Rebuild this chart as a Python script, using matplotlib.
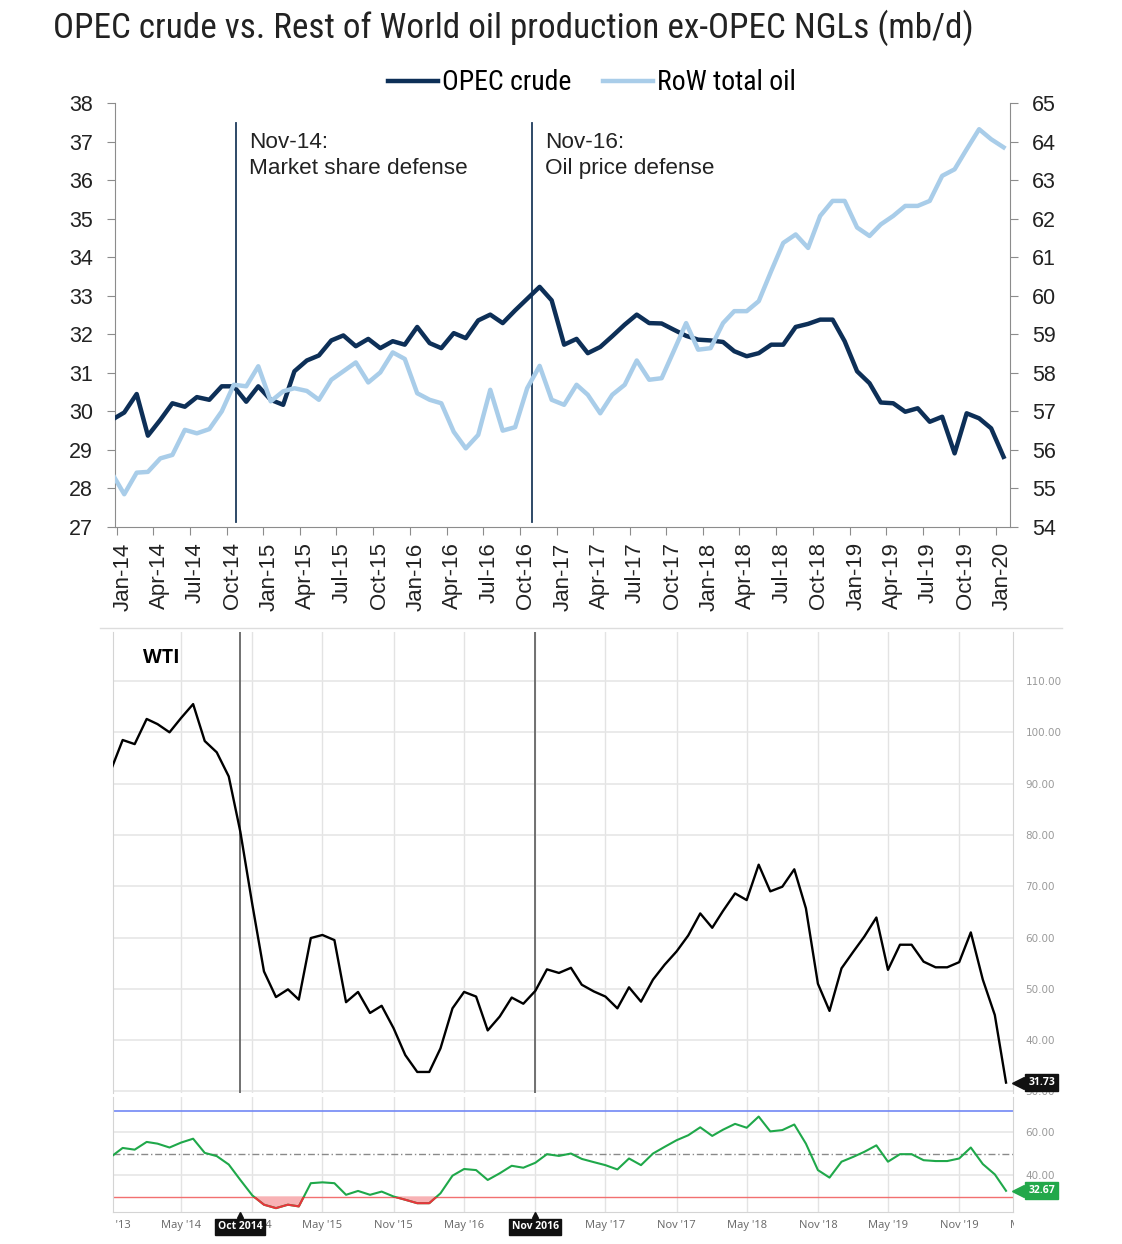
import os
import numpy as np
import pandas as pd
import matplotlib
matplotlib.use('Agg')
import matplotlib.pyplot as plt
import matplotlib.dates as mdates
from matplotlib import font_manager
from matplotlib.font_manager import FontProperties
from matplotlib.lines import Line2D
from matplotlib.patches import Rectangle
from matplotlib.transforms import Bbox, TransformedBbox, ScaledTranslation, blended_transform_factory

# ---- data ---------------------------------------------------------------
# OPEC crude vs RoW total oil (mb/d), monthly from Dec-13 to Jan-20
prod_start = '2013-12-01'
opec_crude = [29.78, 29.97, 30.45, 29.37, 29.78, 30.21, 30.12, 30.37, 30.30, 30.65,
              30.65, 30.25, 30.65, 30.30, 30.17, 31.04, 31.32, 31.45, 31.84, 31.97,
              31.69, 31.88, 31.64, 31.82, 31.73, 32.19, 31.77, 31.64, 32.03, 31.90,
              32.36, 32.51, 32.29, 32.62, 32.92, 33.23, 32.88, 31.73, 31.88, 31.51,
              31.67, 31.95, 32.25, 32.51, 32.29, 32.28, 32.12, 31.96, 31.86, 31.84,
              31.80, 31.56, 31.43, 31.51, 31.73, 31.73, 32.19, 32.27, 32.38, 32.38,
              31.82, 31.04, 30.73, 30.23, 30.21, 29.99, 30.08, 29.73, 29.86, 28.91,
              29.95, 29.82, 29.56, 28.82]
row_total_oil = [55.40, 54.85, 55.41, 55.43, 55.78, 55.87, 56.52, 56.43, 56.54, 57.00,
                 57.69, 57.65, 58.17, 57.26, 57.52, 57.60, 57.53, 57.30, 57.82, 58.04,
                 58.27, 57.75, 58.01, 58.53, 58.36, 57.47, 57.30, 57.21, 56.47, 56.04,
                 56.39, 57.56, 56.50, 56.59, 57.60, 58.18, 57.30, 57.17, 57.69, 57.43,
                 56.95, 57.43, 57.69, 58.32, 57.82, 57.86, 58.56, 59.29, 58.60, 58.64,
                 59.29, 59.60, 59.60, 59.86, 60.64, 61.37, 61.59, 61.24, 62.07, 62.46,
                 62.46, 61.77, 61.55, 61.85, 62.07, 62.33, 62.33, 62.46, 63.11, 63.28,
                 63.80, 64.32, 64.06, 63.85]
event_dates = ['2014-10-25', '2016-10-30']
event_labels = ['Nov-14:\nMarket share defense', 'Nov-16:\nOil price defense']

# WTI monthly close and RSI, Nov-13 to Mar-20
wti_start = '2013-11-01'
wti_close = [92.7, 98.5, 97.7, 102.6, 101.6, 100.0, 102.8, 105.5, 98.3, 96.1,
             91.4, 80.6, 66.4, 53.4, 48.4, 49.9, 47.9, 59.9, 60.5, 59.5,
             47.4, 49.4, 45.3, 46.7, 42.3, 37.1, 33.8, 33.8, 38.4, 46.2,
             49.4, 48.5, 41.9, 44.6, 48.3, 47.1, 49.6, 53.8, 53.1, 54.1,
             50.8, 49.5, 48.5, 46.2, 50.3, 47.5, 51.8, 54.7, 57.3, 60.4,
             64.7, 61.9, 65.2, 68.6, 67.3, 74.2, 69.0, 69.9, 73.3, 65.7,
             51.0, 45.7, 54.0, 57.3, 60.2, 63.9, 53.7, 58.6, 58.6, 55.3,
             54.2, 54.2, 55.2, 61.0, 51.8, 44.9, 31.73]
wti_rsi = [48.5, 52.6, 51.8, 55.4, 54.6, 52.8, 55.1, 56.9, 50.3, 48.8,
           44.9, 37.7, 30.5, 26.2, 24.6, 26.2, 25.4, 36.2, 36.6, 36.2,
           30.8, 32.6, 30.8, 32.3, 30.0, 28.5, 26.9, 26.9, 31.5, 39.7,
           42.8, 42.3, 37.7, 40.8, 44.3, 43.4, 45.7, 49.7, 48.9, 50.0,
           47.5, 46.0, 44.6, 42.6, 47.7, 44.6, 50.0, 53.1, 56.2, 58.5,
           62.2, 58.2, 61.1, 63.8, 62.0, 67.2, 60.3, 60.9, 63.5, 54.6,
           42.3, 38.8, 46.2, 48.5, 50.8, 53.8, 46.2, 49.7, 49.7, 46.9,
           46.5, 46.5, 47.7, 52.8, 45.1, 40.3, 32.67]
wti_marks = ['2014-10-01', '2016-11-01']
wti_mark_labels = ['Oct 2014', 'Nov 2016']

# ---- fonts ----------------------------------------------------------------
ARIAL = 'Liberation Sans'
WEB = 'Open Sans'


def find_narrow():
    # a condensed sans face for the title/legend, if there is one
    prefs = ['Liberation Sans Narrow', 'Arial Narrow', 'Roboto Condensed',
             'Open Sans Condensed', 'Noto Sans Condensed', 'DejaVu Sans Condensed']
    fl = font_manager.fontManager.ttflist
    for p in prefs:
        for f in fl:
            if f.name == p and f.style == 'normal' and f.weight in (400, 'normal', 'regular'):
                return f.fname
    for f in fl:
        base = os.path.basename(f.fname).lower()
        if any(k in base for k in ('bold', 'italic', 'oblique', 'light', 'thin', 'black', 'medium', 'semi', 'extra')):
            continue
        if 'condensed' in base or 'narrow' in base or str(f.stretch) == 'condensed':
            return f.fname
    return None


narrow_file = find_narrow()


def narrow_props(size):
    if narrow_file:
        return FontProperties(fname=narrow_file, size=size)
    return FontProperties(family=ARIAL, size=size)


W, H = 1122, 1244
fig = plt.figure(figsize=(W / 100, H / 100), dpi=100)


def px_rect(x0, y0, x1, y1):
    # pixel box (top-left origin) -> figure fraction rect
    return [x0 / W, 1 - y1 / H, (x1 - x0) / W, (y1 - y0) / H]


# ==========================================================================
# top: OPEC crude vs RoW
# ==========================================================================
title = fig.text(53 / W, 1 - 38 / H,
                 'OPEC crude vs. Rest of World oil production ex-OPEC NGLs (mb/d)',
                 fontproperties=narrow_props(23), color='#222222', ha='left', va='baseline')
# fit the title to the width it takes in the reference (~925 px)
fig.canvas.draw()
tw = title.get_window_extent().width
fit = 925.0 / tw
title.set_fontsize(23 * fit)

ax = fig.add_axes(px_rect(115, 103, 1010, 527))
axr = ax.twinx()
pdates = pd.date_range(prod_start, periods=len(opec_crude), freq='MS') + pd.Timedelta(days=18)

l1, = ax.plot(pdates, opec_crude, color='#0d2f57', lw=3.2, solid_joinstyle='round', zorder=3)
l2, = axr.plot(pdates, row_total_oil, color='#a9cde9', lw=3.2, solid_joinstyle='round', zorder=3)

ax.set_xlim(pd.Timestamp('2013-12-27'), pd.Timestamp('2020-02-04'))
ax.set_ylim(27, 38)
axr.set_ylim(54, 65)
ax.set_yticks(range(27, 39))
axr.set_yticks(range(54, 66))
qt = pd.date_range('2014-01-01', '2020-01-01', freq='QS')
ax.set_xticks(qt)
ax.set_xticklabels([d.strftime('%b-%y') for d in qt], rotation=90)

for d, lab in zip(event_dates, event_labels):
    xd = mdates.date2num(pd.Timestamp(d))
    ax.axvline(xd, ymin=0.012, ymax=0.953, color='#1d3a5c', lw=1.3, zorder=2)
    ax.annotate(lab, xy=(xd, 37.25), xytext=(9.5, 0), textcoords='offset points',
                ha='left', va='top', family=ARIAL, fontsize=16.2, linespacing=1.3,
                color='#222222')

spine_c = '#8c8c8c'
for a in (ax, axr):
    a.spines['top'].set_visible(False)
    for s in ('left', 'right', 'bottom'):
        a.spines[s].set_color(spine_c)
ax.spines['right'].set_visible(False)
axr.spines['left'].set_visible(False)
axr.spines['bottom'].set_visible(False)

ax.tick_params(axis='y', direction='out', length=6, color=spine_c, labelsize=15.5,
               labelcolor='#222222', pad=10)
ax.tick_params(axis='x', direction='out', length=6, color=spine_c, labelsize=16,
               labelcolor='#222222', pad=5)
axr.tick_params(axis='y', direction='out', length=6, color=spine_c, labelsize=15.5,
                labelcolor='#222222', pad=10)
shift = ScaledTranslation(6 / 100, 0, fig.dpi_scale_trans)
for lab in ax.get_xticklabels():
    lab.set_family(ARIAL)
    lab.set_transform(lab.get_transform() + shift)
for lab in ax.get_yticklabels() + axr.get_yticklabels():
    lab.set_family(ARIAL)

fig.legend([l1, l2], ['OPEC crude', 'RoW total oil'], loc='center',
           bbox_to_anchor=(592 / W, 1 - 83 / H), ncol=2, frameon=False,
           prop=narrow_props(18.2 * fit), handlelength=1.8,
           handletextpad=0.15, columnspacing=1.15)

# ==========================================================================
# bottom: WTI price + RSI
# ==========================================================================
fig.add_artist(Line2D([100 / W, 1062 / W], [1 - 628 / H] * 2, color='#dddddd', lw=1))

axp = fig.add_axes(px_rect(113, 632, 1013, 1093))
axi = fig.add_axes(px_rect(113, 1097, 1013, 1212))
wdates = pd.date_range(wti_start, periods=len(wti_close), freq='MS')
xlo, xhi = pd.Timestamp('2013-11-06'), pd.Timestamp('2020-03-19')
grid_dates = pd.date_range('2013-11-01', '2020-05-01', freq='6MS')

grid_c = '#e3e3e3'
edge_c = '#d4d4d4'
for a in (axp, axi):
    a.set_xlim(xlo, xhi)
    for d in grid_dates:
        a.axvline(d, color=grid_c, lw=1, zorder=0)
    a.set_xticks([])
    a.yaxis.tick_right()
    a.spines['top'].set_visible(False)
    a.spines['left'].set_color(edge_c)
    a.spines['right'].set_color(edge_c)
    a.tick_params(axis='y', length=0, pad=9, labelsize=7.5, labelcolor='#9a9a9a')
    a.grid(axis='y', color='#e6e6e6', lw=1.2, zorder=0)
    a.set_axisbelow(True)
axp.spines['bottom'].set_visible(False)
axi.spines['bottom'].set_color(edge_c)


def value_tag(a, val, color):
    # price tag on the right axis: box plus a small left-pointing notch
    a.annotate('%.2f' % val, xy=(1, val), xycoords=('axes fraction', 'data'),
               xytext=(11, 0), textcoords='offset points', ha='left', va='center',
               family=WEB, fontsize=7.5, fontweight='bold', color='white',
               annotation_clip=False, zorder=6,
               bbox=dict(boxstyle='square,pad=0.3', fc=color, ec=color))
    tr = blended_transform_factory(a.transAxes, a.transData)
    a.add_line(Line2D([1], [val], transform=tr + ScaledTranslation(5 / 100, 0, fig.dpi_scale_trans),
                      marker='<', ms=9, color=color, ls='none', clip_on=False, zorder=6))


# price panel
axp.set_ylim(29.7, 119.55)
axp.set_yticks(np.arange(30, 111, 10))
axp.set_yticklabels(['%.2f' % v for v in np.arange(30, 111, 10)])
axp.plot(wdates, wti_close, color='black', lw=1.7, solid_joinstyle='round', zorder=3)
for d in wti_marks:
    axp.axvline(pd.Timestamp(d), color='#666666', lw=1.3, zorder=2)
fig.text(143 / W, 1 - 658 / H, 'WTI', family=WEB, fontweight='bold', fontsize=14,
         ha='left', va='center', color='black')
value_tag(axp, wti_close[-1], '#111111')

# RSI panel
rsi_lo, rsi_hi = 22.8, 76.3
axi.set_ylim(rsi_lo, rsi_hi)
axi.set_yticks([40, 60])
axi.set_yticklabels(['40.00', '60.00'])
axi.axhline(70, color='#7287f5', lw=1.2, zorder=1)
axi.axhline(50, color='#8a8a8a', lw=1, ls=(0, (5, 2, 1, 2)), zorder=1)
axi.axhline(30, color='#f27070', lw=1, zorder=1)
rsi = np.array(wti_rsi)
axi.fill_between(wdates, rsi, 30, where=rsi < 30, interpolate=True,
                 color='#f8b2b5', lw=0, zorder=2)
axi.plot(wdates, rsi, color='#1fa84a', lw=1.5, zorder=3)
red, = axi.plot(wdates, rsi, color='#e8353b', lw=1.5, zorder=4)
red.set_clip_path(Rectangle((0, 0), 1, (30 - rsi_lo) / (rsi_hi - rsi_lo),
                            transform=axi.transAxes))
value_tag(axi, wti_rsi[-1], '#22a84a')

# date labels under the RSI panel, clipped to the chart width
trans = blended_transform_factory(axi.transData, axi.transAxes)
clip = TransformedBbox(Bbox.from_extents(113 / W, 0, 1014 / W, 1), fig.transFigure)
mark_ts = [pd.Timestamp(d) for d in wti_marks]
for d in grid_dates:
    if d in mark_ts:
        continue  # fully covered by the black marker tag
    t = fig.text(mdates.date2num(d), -0.12, d.strftime("%b '%y"), transform=trans,
                 ha='center', va='center', family=WEB, fontsize=8, color='#666666')
    t.set_clip_box(clip)
    t.set_clip_on(True)
for d, lab in zip(mark_ts, wti_mark_labels):
    xd = mdates.date2num(d)
    fig.text(xd, -0.13, lab, transform=trans, ha='center', va='center', family=WEB,
             fontsize=7.5, fontweight='bold', color='white', zorder=5,
             bbox=dict(boxstyle='square,pad=0.25', fc='#111111', ec='#111111'))
    fig.add_artist(Line2D([xd], [-0.025], transform=trans, marker='^', ms=5,
                          color='#111111', ls='none'))

fig.savefig('out.png', dpi=100)
